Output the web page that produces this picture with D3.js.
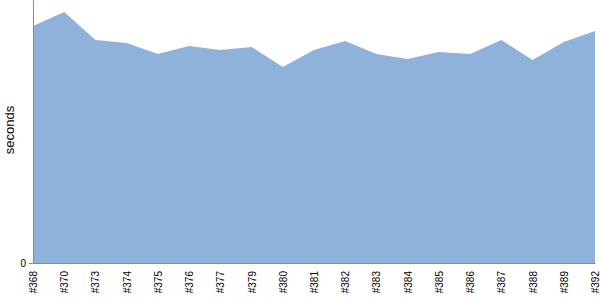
<!DOCTYPE html>
<html>
<head>
<meta charset="utf-8">
<script src="https://cdn.jsdelivr.net/npm/d3@7/dist/d3.min.js"></script>
<style>
  body { margin: 0; background: #fff; }
  text { font-family: "Liberation Sans", Arial, sans-serif; }
</style>
</head>
<body>
<div id="chart-area"></div>
<script>
// build labels and durations (seconds)
var builds = ["#368","#370","#373","#374","#375","#376","#377","#379","#380","#381",
              "#382","#383","#384","#385","#386","#387","#388","#389","#392"];
var seconds = [225.3, 238.6, 212, 209.1, 198.7, 206.3, 202.5, 205.3, 186.3, 202.5,
               211, 198.7, 193.9, 200.6, 198.7, 212, 193, 210, 220.5];
var yTicks = [0];

var margin = { left:33, right:5, top:0, bottom:37 },
    width = 600 - margin.left - margin.right,
    height = 300 - margin.top - margin.bottom;

var svg = d3.select("#chart-area")
    .append("svg")
    .attr("width", 600)
    .attr("height", 300);

var g = svg.append("g")
    .attr("transform", "translate(" + margin.left + "," + margin.top + ")");

var x = d3.scalePoint().domain(builds).range([0, width]).padding(0);
var y = d3.scaleLinear().domain([0, 250]).range([height, 0]);

var data = builds.map(function(b, i){ return { build: b, value: seconds[i] }; });

var area = d3.area()
    .x(function(d){ return x(d.build); })
    .y0(height)
    .y1(function(d){ return y(d.value); });

g.append("path")
    .attr("d", area(data))
    .attr("fill", "#8fb2da");

// Y axis
var yAxis = g.append("g")
    .call(d3.axisLeft(y).tickValues(yTicks).tickSize(4).tickSizeOuter(0));
yAxis.select(".domain").attr("stroke", "#888");
yAxis.selectAll(".tick line").attr("stroke", "#888");
yAxis.selectAll(".tick text").attr("font-size", "10px").attr("fill", "#000")
    .attr("font-family", "Liberation Sans, Arial, sans-serif");

// X axis
var xAxis = g.append("g")
    .attr("transform", "translate(0," + height + ")")
    .call(d3.axisBottom(x).tickSize(0).tickSizeOuter(0));
xAxis.select(".domain").attr("stroke", "#888");
xAxis.selectAll(".tick text")
    .attr("font-size", "10px")
    .attr("font-family", "Liberation Sans, Arial, sans-serif")
    .attr("fill", "#000")
    .attr("text-anchor", "end")
    .attr("transform", "rotate(-90)")
    .attr("x", -8)
    .attr("y", 0)
    .attr("dy", "0.35em");

// Y label
svg.append("text")
    .attr("transform", "rotate(-90)")
    .attr("x", -130)
    .attr("y", 14)
    .attr("text-anchor", "middle")
    .attr("font-size", "13px")
    .attr("fill", "#000")
    .text("seconds");
</script>
</body>
</html>
